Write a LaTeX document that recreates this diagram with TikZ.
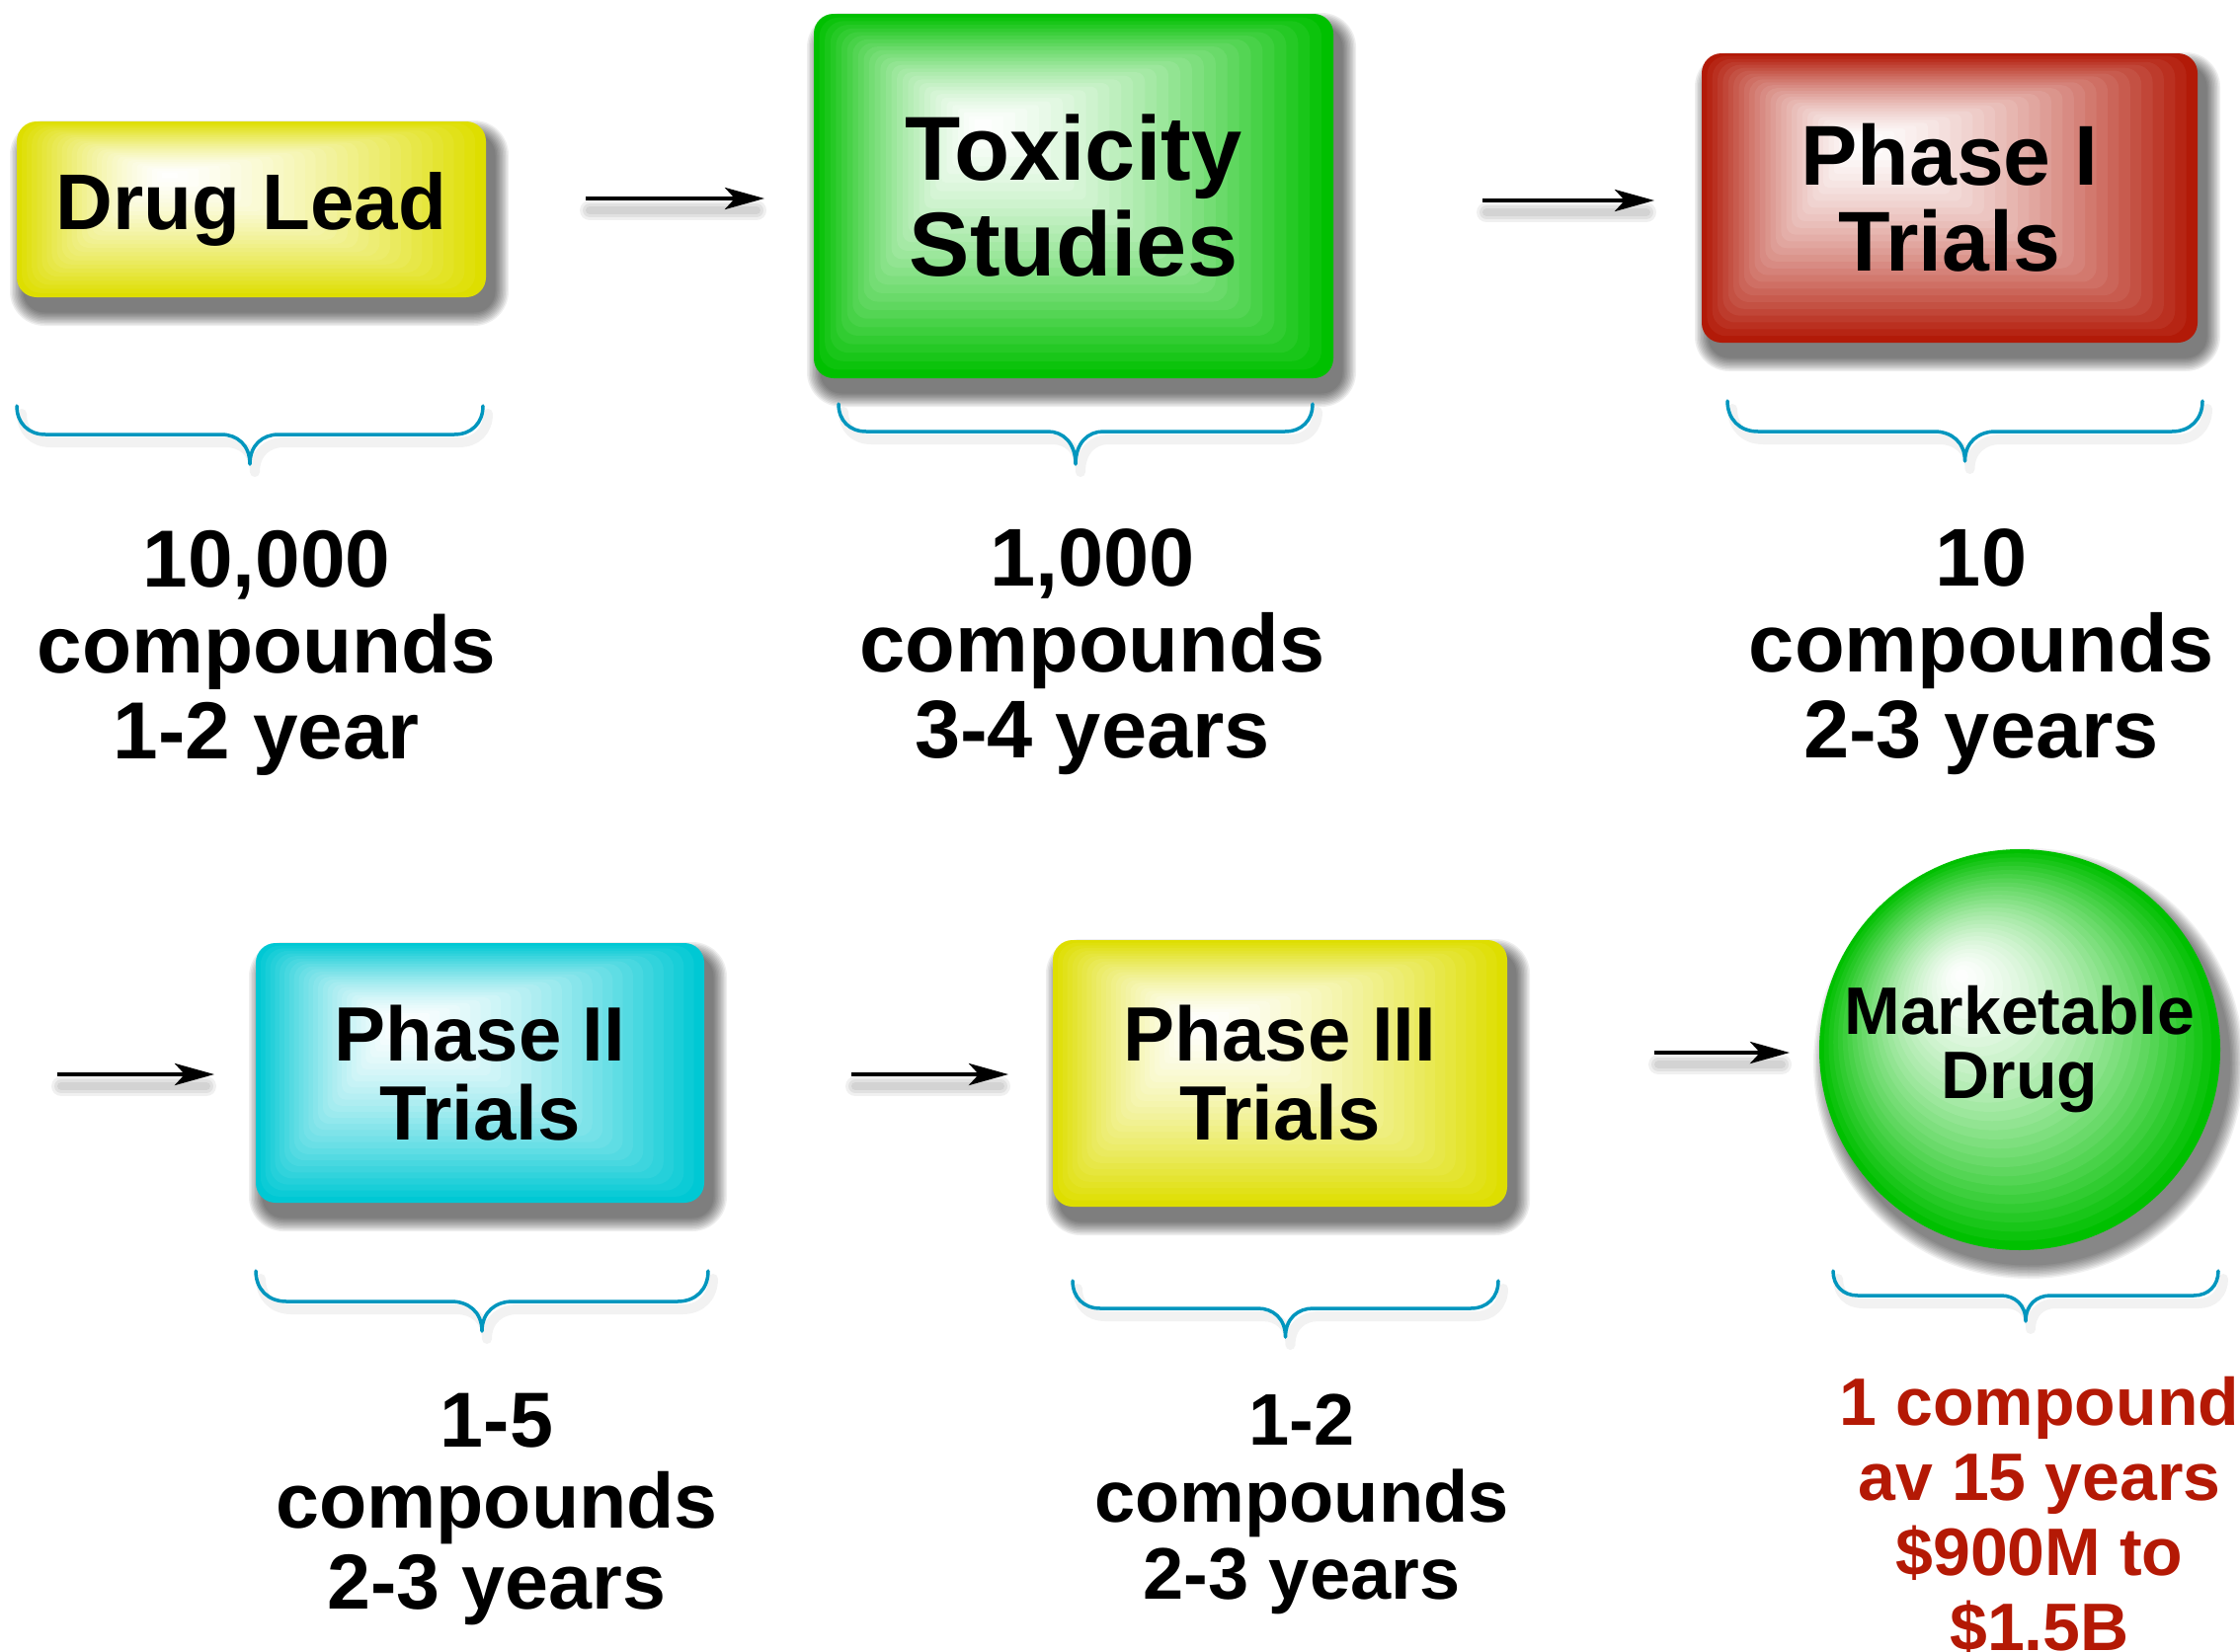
\documentclass[tikz,border=0pt]{standalone}
\usepackage{fontspec}
\setmainfont{Liberation Sans}
\usetikzlibrary{arrows.meta,calc}
\definecolor{yel}{RGB}{222,222,0}
\definecolor{grn}{RGB}{0,192,0}
\definecolor{rd}{RGB}{178,26,8}
\definecolor{cyn}{RGB}{0,200,212}
\definecolor{bracecol}{RGB}{0,150,190}
\definecolor{redtxt}{RGB}{180,25,5}

\tikzset{
  brc/.style={draw=bracecol, line width=3.5pt, line cap=round, line join=round},
  brcsh/.style={draw=black, opacity=0.05, line width=10pt, line cap=round, line join=round},
  arr/.style={line width=4.5pt, -{Stealth[length=40pt,width=22pt,inset=10pt]}},
  arrsh/.style={draw=black, opacity=0.06, line cap=round},
  lbl/.style={align=center, inner sep=0pt, anchor=north},
}

% name x1 y1 x2 y2 color size leading text
\newcommand\gbox[9]{%
  \pgfmathsetmacro\gFx{#2+0.32*(#4-#2)}%
  \pgfmathsetmacro\gFy{#3+0.30*(#5-#3)}%
  \foreach \k in {0,...,9}{%
    \pgfmathsetmacro\shE{15-1.5*\k}%
    \pgfmathsetmacro\shR{20+\shE}%
    \fill[black,opacity=0.065,rounded corners=\shR pt] ({#2+8-\shE},{#3+14-\shE}) rectangle ({#4+8+\shE},{#5+14+\shE});
  }
  \foreach \i in {0,...,29}{%
    \pgfmathsetmacro\gS{1-\i/30}%
    \pgfmathsetmacro\gP{100*\gS^1.5}%
    \pgfmathsetmacro\gR{20*\gS}%
    \fill[#6!\gP!white, rounded corners=\gR pt] ({\gFx+(#2-\gFx)*\gS},{\gFy+(#3-\gFy)*\gS}) rectangle ({\gFx+(#4-\gFx)*\gS},{\gFy+(#5-\gFy)*\gS});
  }
  \node[inner sep=0pt, align=center, font=\fontsize{#7}{#8}\selectfont\bfseries,
        minimum width={#4-#2}, minimum height={#5-#3}] (#1) at ({(#2+#4)/2},{(#3+#5)/2}) {#9};
}

% xL xR yt ym yb
\newcommand\mybrace[5]{%
  \pgfmathsetmacro\bXc{(#1+#2)/2}%
  \pgfmathsetmacro\bR{#4-#3}%
  \pgfmathsetmacro\bH{#5-#4}%
  \foreach \sx/\sy in {5/8}{%
  \draw[brcsh] ({#1+\sx},{#3+\sy}) .. controls ({#1+\sx},{#3+0.6*\bR+\sy}) and ({#1+0.4*\bR+\sx},{#4+\sy}) .. ({#1+\bR+\sx},{#4+\sy})
     -- ({\bXc-\bR+\sx},{#4+\sy}) .. controls ({\bXc-0.45*\bR+\sx},{#4+\sy}) and ({\bXc+\sx},{#4+0.35*\bH+\sy}) .. ({\bXc+\sx},{#5+\sy})
     .. controls ({\bXc+\sx},{#4+0.35*\bH+\sy}) and ({\bXc+0.45*\bR+\sx},{#4+\sy}) .. ({\bXc+\bR+\sx},{#4+\sy})
     -- ({#2-\bR+\sx},{#4+\sy}) .. controls ({#2-0.4*\bR+\sx},{#4+\sy}) and ({#2+\sx},{#3+0.6*\bR+\sy}) .. ({#2+\sx},{#3+\sy});
  }
  \draw[brc] (#1,#3) .. controls (#1,{#3+0.6*\bR}) and ({#1+0.4*\bR},#4) .. ({#1+\bR},#4)
     -- ({\bXc-\bR},#4) .. controls ({\bXc-0.45*\bR},#4) and (\bXc,{#4+0.35*\bH}) .. (\bXc,#5)
     .. controls (\bXc,{#4+0.35*\bH}) and ({\bXc+0.45*\bR},#4) .. ({\bXc+\bR},#4)
     -- ({#2-\bR},#4) .. controls ({#2-0.4*\bR},#4) and (#2,{#3+0.6*\bR}) .. (#2,#3);
}

\newcommand\arrowsh[2]{%
  \foreach \w in {8,14,20}{%
    \draw[arrsh, line width=\w pt] ($(#1)+(4,12)$) -- ($(#2)+(-8,12)$);
  }
  \draw[arr] (#1) -- (#2);
}

\begin{document}
\begin{tikzpicture}[x=1pt,y=-1pt]
\fill[white] (0,0) rectangle (2268,1673);
\useasboundingbox (0,0) rectangle (2268,1673);

% boxes
\gbox{dl}{17}{123}{492}{301}{yel}{80}{86}{Drug Lead}
\gbox{tox}{824}{14}{1350}{383}{grn}{92}{97}{Toxicity\\Studies}
\gbox{p1}{1723}{54}{2225}{347}{rd}{86}{87}{Phase I\\Trials}
\gbox{p2}{259}{955}{713}{1218}{cyn}{78}{80}{Phase II\\Trials}
\gbox{p3}{1066}{952}{1526}{1222}{yel}{78}{80}{Phase III\\Trials}

% marketable drug circle
\pgfmathsetmacro\cFx{2045-0.30*203}
\pgfmathsetmacro\cFy{1063-0.38*203}
\foreach \k in {0,...,9}{%
  \pgfmathsetmacro\shE{203+15-1.5*\k}%
  \fill[black,opacity=0.06] (2054,1077) circle[radius=\shE pt];
}
\foreach \i in {0,...,29}{%
  \pgfmathsetmacro\gS{1-\i/30}%
  \pgfmathsetmacro\gP{100*\gS^1.5}%
  \pgfmathsetmacro\gR{203*\gS}%
  \fill[grn!\gP!white] ({\cFx+(2045-\cFx)*\gS},{\cFy+(1063-\cFy)*\gS}) circle[radius=\gR pt];
}
\node[circle, minimum size=406pt, inner sep=0pt, align=center, font=\fontsize{68}{65}\selectfont\bfseries] (md) at (2045,1063) {Marketable\\Drug};

% arrows
\coordinate (a1s) at (593,201);  \coordinate (a1e) at (774,201);
\coordinate (a2s) at (1501,203); \coordinate (a2e) at (1675,203);
\coordinate (a3s) at (58,1088);  \coordinate (a3e) at (217,1088);
\coordinate (a4s) at (862,1088); \coordinate (a4e) at (1021,1088);
\coordinate (a5s) at (1675,1066);\coordinate (a5e) at (1812,1066);
\arrowsh{a1s}{a1e}
\arrowsh{a2s}{a2e}
\arrowsh{a3s}{a3e}
\arrowsh{a4s}{a4e}
\arrowsh{a5s}{a5e}

% braces
\mybrace{17}{489}{411}{440}{470}
\mybrace{849}{1329}{409}{437}{470}
\mybrace{1749}{2230}{406}{437}{467}
\mybrace{259}{717}{1287}{1318}{1348}
\mybrace{1086}{1517}{1297}{1325}{1354}
\mybrace{1856}{2246}{1287}{1312}{1338}

% labels
\node[lbl, font=\fontsize{82}{87}\selectfont\bfseries] (t1) at (270,537) {10,000\\compounds\\1-2 year};
\node[lbl, font=\fontsize{83}{87}\selectfont\bfseries] (t2) at (1106,535) {1,000\\compounds\\3-4 years};
\node[lbl, font=\fontsize{83}{87}\selectfont\bfseries] (t3) at (2006,535) {10\\compounds\\2-3 years};
\node[lbl, font=\fontsize{79}{82}\selectfont\bfseries] (t4) at (503,1411) {1-5\\compounds\\2-3 years};
\node[lbl, font=\fontsize{74}{78}\selectfont\bfseries] (t5) at (1318,1412) {1-2\\compounds\\2-3 years};
\node[lbl, text=redtxt, font=\fontsize{68}{76}\selectfont\bfseries] (t6) at (2065,1394) {1 compound\\av 15 years\\\$900M to\\\$1.5B};
\end{tikzpicture}
\end{document}
